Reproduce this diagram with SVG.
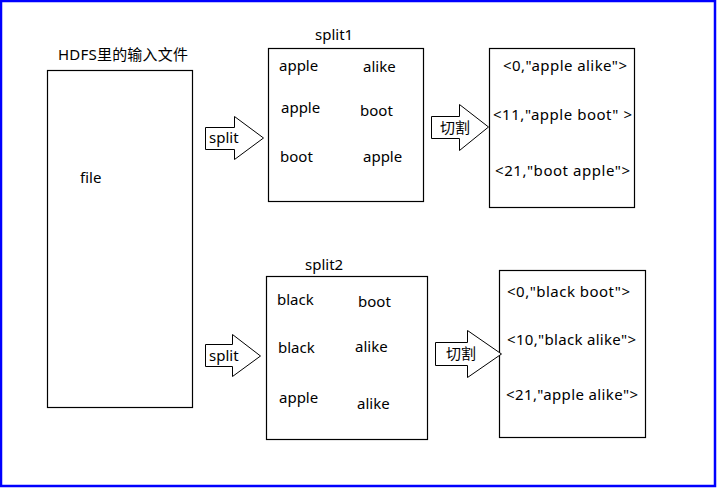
<svg xmlns="http://www.w3.org/2000/svg" width="717" height="488" viewBox="0 0 717 488">
<style>
text{font-family:"Noto Sans","Noto Sans CJK SC",sans-serif;font-size:15px;fill:#000}
.box{fill:#fff;stroke:#000;stroke-width:1.2}
.arr{fill:#fff;stroke:#000;stroke-width:1}
</style>
<rect x="1" y="1" width="714" height="485" fill="#fff" stroke="#0000ff" stroke-width="2.5"/>
<g id="hdfs">
<text x="58" y="60" textLength="130">HDFS里的输入文件</text>
<rect class="box" x="47.5" y="70.5" width="145" height="337"/>
<text x="80" y="183">file</text>
</g>
<g id="split1">
<text x="315" y="40">split1</text>
<rect class="box" x="268.5" y="48.5" width="155" height="153"/>
<text x="279" y="71">apple</text>
<text x="363" y="72">alike</text>
<text x="281" y="113">apple</text>
<text x="360" y="116">boot</text>
<text x="280" y="162">boot</text>
<text x="363" y="162">apple</text>
</g>
<g id="records1">
<rect class="box" x="489.5" y="48.5" width="145" height="159"/>
<text x="503" y="71" textLength="124">&lt;0,"apple alike"&gt;</text>
<text x="493" y="120" textLength="139">&lt;11,"apple boot" &gt;</text>
<text x="495" y="176" textLength="135">&lt;21,"boot apple"&gt;</text>
</g>
<g id="split2">
<text x="305" y="270">split2</text>
<rect class="box" x="266.5" y="276.5" width="161" height="163"/>
<text x="277" y="305">black</text>
<text x="358" y="307">boot</text>
<text x="278" y="353">black</text>
<text x="355" y="352">alike</text>
<text x="279" y="403">apple</text>
<text x="357" y="409">alike</text>
</g>
<g id="records2">
<rect class="box" x="499.5" y="270.5" width="146" height="167"/>
<text x="507" y="297" textLength="123">&lt;0,"black boot"&gt;</text>
<text x="507" y="345" textLength="129">&lt;10,"black alike"&gt;</text>
<text x="506" y="400" textLength="132">&lt;21,"apple alike"&gt;</text>
</g>
<g id="connectors">
<polygon class="arr" points="205.5,127.5 234.5,127.5 234.5,116.5 263.5,138 234.5,159.5 234.5,149.5 205.5,149.5"/>
<text x="209" y="143">split</text>
<polygon class="arr" points="431.5,116.5 459.5,116.5 459.5,104.5 488.5,127 459.5,150.5 459.5,138.5 431.5,138.5"/>
<text x="440" y="133">切割</text>
<polygon class="arr" points="205.5,344.5 232.5,344.5 232.5,334.5 260.5,356 232.5,376.5 232.5,366.5 205.5,366.5"/>
<text x="209" y="361">split</text>
<polygon class="arr" points="435.5,342.5 467.5,342.5 467.5,330.5 501.5,354 467.5,377.5 467.5,365.5 435.5,365.5"/>
<text x="446" y="359">切割</text>
</g>
</svg>
